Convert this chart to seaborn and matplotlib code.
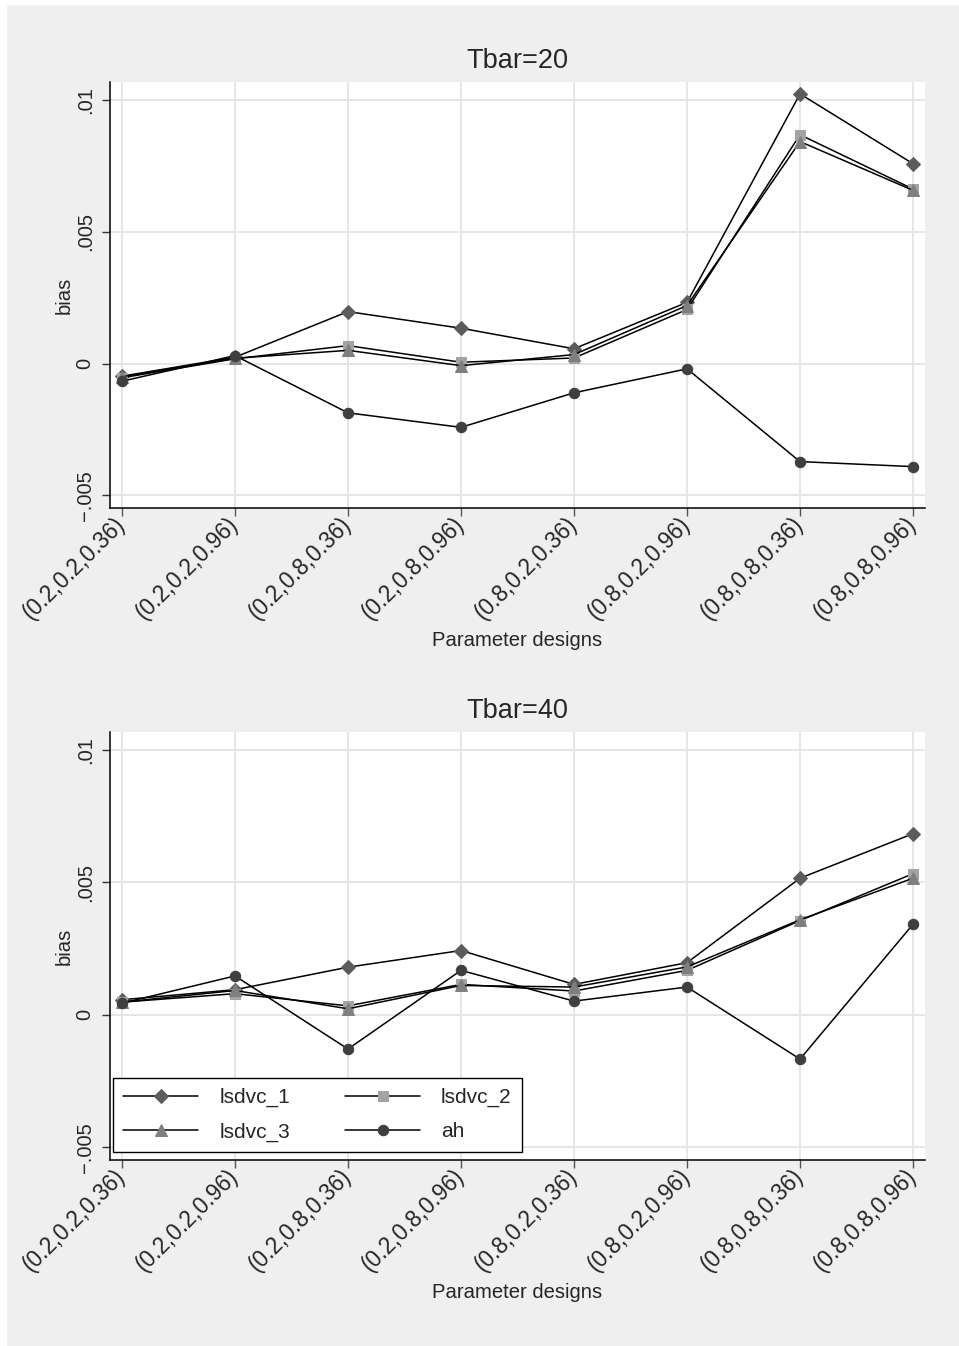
import numpy as np
import pandas as pd
import matplotlib
matplotlib.use("Agg")
import matplotlib.pyplot as plt
import seaborn as sns
from matplotlib.patches import Rectangle

designs = ["(0.2,0.2,0.36)", "(0.2,0.2,0.96)", "(0.2,0.8,0.36)", "(0.2,0.8,0.96)",
           "(0.8,0.2,0.36)", "(0.8,0.2,0.96)", "(0.8,0.8,0.36)", "(0.8,0.8,0.96)"]

t20_lsdvc_1 = [-0.00048, 0.00024, 0.00197, 0.00134, 0.00056, 0.00232, 0.01023, 0.00758]
t20_lsdvc_2 = [-0.00054, 0.00018, 0.00068, 0.00005, 0.00021, 0.00205, 0.00868, 0.00662]
t20_lsdvc_3 = [-0.00050, 0.00020, 0.00050, -0.00008, 0.00034, 0.00220, 0.00842, 0.00657]
t20_ah = [-0.00067, 0.00030, -0.00187, -0.00242, -0.00111, -0.00020, -0.00372, -0.00391]

t40_lsdvc_1 = [0.00057, 0.00095, 0.00180, 0.00243, 0.00115, 0.00197, 0.00516, 0.00684]
t40_lsdvc_2 = [0.00048, 0.00080, 0.00034, 0.00115, 0.00090, 0.00168, 0.00356, 0.00533]
t40_lsdvc_3 = [0.00048, 0.00092, 0.00023, 0.00111, 0.00105, 0.00181, 0.00359, 0.00516]
t40_ah = [0.00044, 0.00147, -0.00129, 0.00168, 0.00052, 0.00105, -0.00167, 0.00342]

series_names = ["lsdvc_1", "lsdvc_2", "lsdvc_3", "ah"]
yticks = [-0.005, 0, 0.005, 0.01]
ytick_labels = ["\u2212.005", "0", ".005", ".01"]

# marker style per series
styles = {
    "lsdvc_1": dict(marker="D", ms=7.5, color="#5c5c5c"),
    "lsdvc_2": dict(marker="s", ms=7, color="#a3a3a3"),
    "lsdvc_3": dict(marker="^", ms=8, color="#7f7f7f"),
    "ah": dict(marker="o", ms=7.5, color="#3f3f3f"),
}

sns.set_theme(style="white")
plt.rcParams["font.family"] = ["Liberation Sans", "DejaVu Sans"]

BG = "#efefef"
GRID = "#e4e4e4"

fig = plt.figure(figsize=(9.59, 13.46), dpi=100, facecolor=BG)
W, H = 959, 1346
# thin white strip at top and left edges
fig.patches.append(Rectangle((0, 1 - 4 / H), 1, 4 / H, transform=fig.transFigure, color="white", zorder=-1))
fig.patches.append(Rectangle((0, 0), 6 / W, 1, transform=fig.transFigure, color="white", zorder=-1))


def make_panel(rect, title, data, show_legend):
    ax = fig.add_axes(rect)
    ax.set_facecolor("white")
    df = pd.DataFrame({"design": designs})
    for name, vals in zip(series_names, data):
        st = styles[name]
        sns.lineplot(x=df["design"], y=vals, ax=ax, sort=False, color="black", lw=1.1,
                     marker=st["marker"], markersize=st["ms"],
                     markerfacecolor=st["color"], markeredgecolor=st["color"],
                     label=name, legend=False, zorder=3)
    ax.set_xlim(-0.106, 7.106)
    ax.set_ylim(-0.00548, 0.01068)
    ax.set_yticks(yticks)
    ax.set_yticklabels(ytick_labels, rotation=90, va="center", fontsize=14.5)
    ax.set_xticks(range(len(designs)))
    ax.set_xticklabels(designs, rotation=45, ha="right", va="center",
                       rotation_mode="anchor", fontsize=16.3)
    ax.tick_params(axis="x", length=6, width=1, color="#555555", pad=3, bottom=True)
    ax.tick_params(axis="y", length=6, width=1, color="#333333", pad=5, left=True)
    ax.grid(True, color=GRID, lw=1.3, zorder=0)
    ax.set_axisbelow(True)
    for s in ["top", "right"]:
        ax.spines[s].set_visible(False)
    for s in ["left", "bottom"]:
        ax.spines[s].set_color("black")
        ax.spines[s].set_linewidth(1.1)
    ax.set_title(title, fontsize=19.5, pad=10)
    ax.set_xlabel("Parameter designs", fontsize=14.6)
    ax.set_ylabel("bias", fontsize=14.6)
    ax.xaxis.set_label_coords(0.5, -0.31)
    ax.xaxis.label.set_va("center")
    ax.yaxis.set_label_coords(-0.056, 0.5)
    ax.yaxis.label.set_va("center")
    if show_legend:
        handles, labels = ax.get_legend_handles_labels()
        # row-wise order: lsdvc_1, lsdvc_2 / lsdvc_3, ah
        order = [0, 2, 1, 3]
        leg = ax.legend([handles[i] for i in order], [labels[i] for i in order],
                        ncol=2, loc="lower left",
                        bbox_to_anchor=(0.0037, 0.0187), borderaxespad=0,
                        fontsize=15, handlelength=3.6, handletextpad=1.0,
                        columnspacing=2.65, labelspacing=0.72, borderpad=0.5,
                        fancybox=False, frameon=True, framealpha=1)
        leg.get_frame().set_edgecolor("black")
        leg.get_frame().set_linewidth(1.0)
    return ax


make_panel([110 / W, 1 - 508 / H, 815 / W, 426 / H], "Tbar=20",
           [t20_lsdvc_1, t20_lsdvc_2, t20_lsdvc_3, t20_ah], False)
make_panel([110 / W, 1 - 1160 / H, 815 / W, 428 / H], "Tbar=40",
           [t40_lsdvc_1, t40_lsdvc_2, t40_lsdvc_3, t40_ah], True)

fig.savefig("out.png", dpi=100, facecolor=BG)
